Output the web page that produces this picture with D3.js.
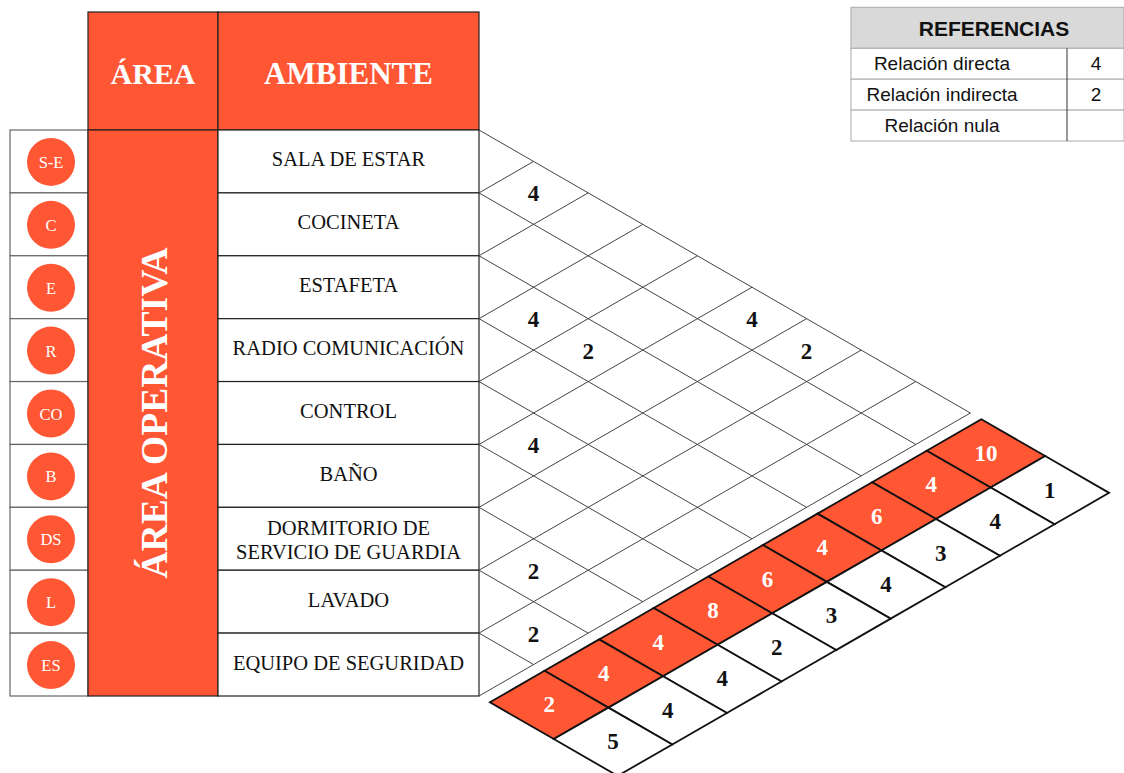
<!DOCTYPE html>
<html>
<head>
<meta charset="utf-8">
<script src="https://cdn.jsdelivr.net/npm/d3@7"></script>
<style>
  html, body { margin: 0; padding: 0; background: #fff; }
  svg { display: block; }
</style>
</head>
<body>
<div id="chart"></div>
<script>
// ---------------- DATA ----------------
const codes = ["S-E", "C", "E", "R", "CO", "B", "DS", "L", "ES"];
const ambientes = [
  "SALA DE ESTAR", "COCINETA", "ESTAFETA", "RADIO COMUNICACIÓN", "CONTROL",
  "BAÑO", "DORMITORIO DE|SERVICIO DE GUARDIA", "LAVADO", "EQUIPO DE SEGURIDAD"
];
const areaLabel = "ÁREA OPERATIVA";
const headerLabels = ["ÁREA", "AMBIENTE"];
// relation pairs (row index a, row index b) and their values
const relPairs = [[0, 1], [2, 3], [2, 4], [0, 5], [0, 6], [4, 5], [6, 7], [7, 8]];
const relValues = [4, 4, 2, 4, 2, 4, 2, 2];
// sums per ambiente and ranking
const totals = [10, 4, 6, 4, 6, 8, 4, 4, 2];
const ranks = [1, 4, 3, 4, 3, 2, 4, 4, 5];
// legend
const legendTitle = "REFERENCIAS";
const legendLabels = ["Relación directa", "Relación indirecta", "Relación nula"];
const legendValues = ["4", "2", ""];

// ---------------- LAYOUT ----------------
const W = 1124, H = 773;
const RED = "#ff5634";
const SERIF = "'Liberation Serif','Times New Roman',serif";
const SANS = "'Liberation Sans',Arial,sans-serif";

const svg = d3.select("#chart").append("svg").attr("width", W).attr("height", H);

const n = codes.length;
// row boundaries
const yB = d3.scaleLinear().domain([0, n]).range([130, 696]);
// column boundaries of the table
const colX = { circ0: 10, area0: 88, amb0: 218, amb1: 479 };
const headerTop = 12;
// diagonal distance scale (in row units)
const xDiag = d3.scaleLinear().domain([0, n]).range([colX.amb1, 970.4]);
// point at intersection of down-line from boundary p and up-line from boundary q
const pt = (p, q) => [xDiag(q - p), yB((p + q) / 2)];

// ---------------- TABLE ----------------
const tbl = svg.append("g");

// header cells
tbl.append("rect").attr("x", colX.area0).attr("y", headerTop)
  .attr("width", colX.amb0 - colX.area0).attr("height", yB(0) - headerTop)
  .attr("fill", RED).attr("stroke", "#222").attr("stroke-width", 1.2);
tbl.append("rect").attr("x", colX.amb0).attr("y", headerTop)
  .attr("width", colX.amb1 - colX.amb0).attr("height", yB(0) - headerTop)
  .attr("fill", RED).attr("stroke", "#222").attr("stroke-width", 1.2);
tbl.append("text").attr("x", (colX.area0 + colX.amb0) / 2).attr("y", 73)
  .attr("text-anchor", "middle").attr("dominant-baseline", "central")
  .attr("font-family", SERIF).attr("font-weight", "bold").attr("font-size", 30)
  .attr("fill", "#fff").text(headerLabels[0]);
tbl.append("text").attr("x", (colX.amb0 + colX.amb1) / 2).attr("y", 73)
  .attr("text-anchor", "middle").attr("dominant-baseline", "central")
  .attr("font-family", SERIF).attr("font-weight", "bold").attr("font-size", 31)
  .attr("fill", "#fff").text(headerLabels[1]);

// circle column cells
tbl.selectAll("rect.circcell").data(codes).join("rect")
  .attr("class", "circcell")
  .attr("x", colX.circ0).attr("y", (d, i) => yB(i))
  .attr("width", colX.area0 - colX.circ0).attr("height", yB(1) - yB(0))
  .attr("fill", "#fff").attr("stroke", "#666").attr("stroke-width", 1.2);

tbl.selectAll("circle.code").data(codes).join("circle")
  .attr("class", "code")
  .attr("cx", (colX.circ0 + colX.area0) / 2 + 2)
  .attr("cy", (d, i) => (yB(i) + yB(i + 1)) / 2 + 0.5)
  .attr("r", 24).attr("fill", RED);
tbl.selectAll("text.code").data(codes).join("text")
  .attr("class", "code")
  .attr("x", (colX.circ0 + colX.area0) / 2 + 2)
  .attr("y", (d, i) => (yB(i) + yB(i + 1)) / 2 + 1)
  .attr("text-anchor", "middle").attr("dominant-baseline", "central")
  .attr("font-family", SERIF).attr("font-size", 16.5).attr("fill", "#fff")
  .text(d => d);

// area merged cell
tbl.append("rect").attr("x", colX.area0).attr("y", yB(0))
  .attr("width", colX.amb0 - colX.area0).attr("height", yB(n) - yB(0))
  .attr("fill", RED).attr("stroke", "#222").attr("stroke-width", 1.2);
const acx = (colX.area0 + colX.amb0) / 2, acy = (yB(0) + yB(n)) / 2;
tbl.append("text")
  .attr("transform", `translate(${acx + 1},${acy}) rotate(-90)`)
  .attr("text-anchor", "middle").attr("dominant-baseline", "central")
  .attr("font-family", SERIF).attr("font-weight", "bold").attr("font-size", 37.5)
  .attr("fill", "#fff").text(areaLabel);

// ambiente cells
tbl.selectAll("rect.amb").data(ambientes).join("rect")
  .attr("class", "amb")
  .attr("x", colX.amb0).attr("y", (d, i) => yB(i))
  .attr("width", colX.amb1 - colX.amb0).attr("height", yB(1) - yB(0))
  .attr("fill", "#fff").attr("stroke", "#222").attr("stroke-width", 1.2);
const ambText = tbl.selectAll("text.amb").data(ambientes).join("text")
  .attr("class", "amb")
  .attr("text-anchor", "middle")
  .attr("font-family", SERIF).attr("font-size", 20.5).attr("fill", "#111");
ambText.each(function (d, i) {
  const lines = d.split("|");
  const cy = (yB(i) + yB(i + 1)) / 2;
  const t = d3.select(this);
  const off = lines.length > 1 ? 1 : -2;
  lines.forEach((ln, k) => {
    t.append("tspan")
      .attr("x", (colX.amb0 + colX.amb1) / 2)
      .attr("y", cy + off + (k - (lines.length - 1) / 2) * 24)
      .attr("dominant-baseline", "central")
      .text(ln);
  });
});

// ---------------- DIAMOND MATRIX ----------------
const grid = svg.append("g");
const bounds = d3.range(0, n + 1);
// down-right lines
grid.selectAll("line.down").data(bounds.filter(i => i < n)).join("line")
  .attr("class", "down")
  .attr("x1", i => pt(i, i)[0]).attr("y1", i => pt(i, i)[1])
  .attr("x2", i => pt(i, n)[0]).attr("y2", i => pt(i, n)[1])
  .attr("stroke", "#444").attr("stroke-width", 1);
// up-right lines
grid.selectAll("line.up").data(bounds.filter(j => j > 0)).join("line")
  .attr("class", "up")
  .attr("x1", j => pt(j, j)[0]).attr("y1", j => pt(j, j)[1])
  .attr("x2", j => pt(0, j)[0]).attr("y2", j => pt(0, j)[1])
  .attr("stroke", "#444").attr("stroke-width", 1);

grid.selectAll("text.rel").data(relPairs).join("text")
  .attr("class", "rel")
  .attr("x", d => pt(d[0] + 0.5, d[1] + 0.5)[0])
  .attr("y", d => pt(d[0] + 0.5, d[1] + 0.5)[1] + 1)
  .attr("text-anchor", "middle").attr("dominant-baseline", "central")
  .attr("font-family", SERIF).attr("font-weight", "bold").attr("font-size", 23)
  .attr("fill", "#111")
  .text((d, i) => relValues[i]);

// ---------------- TOTAL / RANK BAND ----------------
const gap = 0.2, depth = 1.17;
const band = svg.append("g");
const q0 = n + gap, q1 = q0 + depth, q2 = q1 + depth;
const poly = (p0, p1, qa, qb) => [pt(p0, qa), pt(p1, qa), pt(p1, qb), pt(p0, qb)];

band.selectAll("polygon.tot").data(totals).join("polygon")
  .attr("class", "tot")
  .attr("points", (d, r) => poly(r, r + 1, q0, q1).map(p => p.join(",")).join(" "))
  .attr("fill", RED).attr("stroke", "#111").attr("stroke-width", 1.8)
  .attr("stroke-linejoin", "miter");
band.selectAll("polygon.rank").data(ranks).join("polygon")
  .attr("class", "rank")
  .attr("points", (d, r) => poly(r, r + 1, q1, q2).map(p => p.join(",")).join(" "))
  .attr("fill", "#fff").attr("stroke", "#111").attr("stroke-width", 1.8);

band.selectAll("text.tot").data(totals).join("text")
  .attr("class", "tot")
  .attr("x", (d, r) => pt(r + 0.5, (q0 + q1) / 2)[0])
  .attr("y", (d, r) => pt(r + 0.5, (q0 + q1) / 2)[1])
  .attr("text-anchor", "middle").attr("dominant-baseline", "central")
  .attr("font-family", SERIF).attr("font-weight", "bold").attr("font-size", 23)
  .attr("fill", "#fff").text(d => d);
band.selectAll("text.rank").data(ranks).join("text")
  .attr("class", "rank")
  .attr("x", (d, r) => pt(r + 0.5, (q1 + q2) / 2)[0])
  .attr("y", (d, r) => pt(r + 0.5, (q1 + q2) / 2)[1])
  .attr("text-anchor", "middle").attr("dominant-baseline", "central")
  .attr("font-family", SERIF).attr("font-weight", "bold").attr("font-size", 23)
  .attr("fill", "#111").text(d => d);

// ---------------- LEGEND ----------------
const lg = svg.append("g");
const lgX0 = 851, lgX1 = 1124, lgDiv = 1067;
const lgRows = d3.scaleLinear().domain([0, 3]).range([48.3, 141]);
lg.append("rect").attr("x", lgX0).attr("y", 7.3).attr("width", lgX1 - lgX0)
  .attr("height", 48.3 - 7.3).attr("fill", "#d9d9d9").attr("stroke", "#aaa");
lg.append("text").attr("x", 994).attr("y", 28.5)
  .attr("text-anchor", "middle").attr("dominant-baseline", "central")
  .attr("font-family", SANS).attr("font-weight", "bold").attr("font-size", 21)
  .attr("fill", "#111").text(legendTitle);
lg.selectAll("rect.lrow").data(legendLabels).join("rect")
  .attr("class", "lrow")
  .attr("x", lgX0).attr("y", (d, i) => lgRows(i)).attr("width", lgX1 - lgX0)
  .attr("height", lgRows(1) - lgRows(0)).attr("fill", "#fff").attr("stroke", "#aaa");
lg.append("line").attr("x1", lgDiv).attr("x2", lgDiv).attr("y1", lgRows(0)).attr("y2", lgRows(3))
  .attr("stroke", "#333").attr("stroke-width", 1);
lg.selectAll("text.llab").data(legendLabels).join("text")
  .attr("class", "llab")
  .attr("x", 942).attr("y", (d, i) => (lgRows(i) + lgRows(i + 1)) / 2)
  .attr("text-anchor", "middle").attr("dominant-baseline", "central")
  .attr("font-family", SANS).attr("font-size", 19).attr("fill", "#111").text(d => d);
lg.selectAll("text.lval").data(legendValues).join("text")
  .attr("class", "lval")
  .attr("x", 1096).attr("y", (d, i) => (lgRows(i) + lgRows(i + 1)) / 2)
  .attr("text-anchor", "middle").attr("dominant-baseline", "central")
  .attr("font-family", SANS).attr("font-size", 19).attr("fill", "#111").text(d => d);
</script>
</body>
</html>
